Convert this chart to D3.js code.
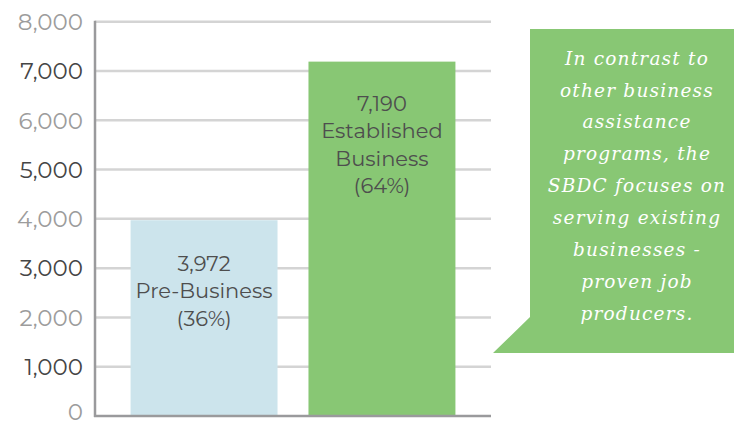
<!DOCTYPE html>
<html>
<head>
<meta charset="utf-8">
<script src="https://cdn.jsdelivr.net/npm/d3@7"></script>
<style>
  html, body { margin: 0; padding: 0; background: #fff; }
  svg { display: block; }
</style>
</head>
<body>
<div id="chart"></div>
<script>
const categories = ["Pre-Business", "Established Business"];
const values = [3972, 7190];
const percents = ["36%", "64%"];
// how each bar label breaks into lines
const labelLines = [
  ["3,972", "Pre-Business", "(36%)"],
  ["7,190", "Established", "Business", "(64%)"],
];
const barColors = ["#cce4ec", "#88c774"];
const yTicks = [0, 1000, 2000, 3000, 4000, 5000, 6000, 7000, 8000];
const calloutLines = [
  "In contrast to",
  "other business",
  "assistance",
  "programs, the",
  "SBDC focuses on",
  "serving existing",
  "businesses -",
  "proven job",
  "producers.",
];

const width = 734;
const height = 423;

const svg = d3
  .select("#chart")
  .append("svg")
  .attr("width", width)
  .attr("height", height);

const x = d3
  .scaleBand()
  .domain(categories)
  .range([95, 491])
  .paddingInner(0.174)
  .paddingOuter(0.2);

const y = d3.scaleLinear().domain([0, 8000]).range([416, 21.7]);

// gridlines
svg
  .append("g")
  .selectAll("line")
  .data(yTicks.filter((d) => d > 0))
  .join("line")
  .attr("x1", 95)
  .attr("x2", 491)
  .attr("y1", (d) => y(d))
  .attr("y2", (d) => y(d))
  .attr("stroke", "#d4d4d4")
  .attr("stroke-width", 2.5);

// tick labels, alternating grey shades
svg
  .append("g")
  .selectAll("text")
  .data(yTicks)
  .join("text")
  .attr("x", 83)
  .attr("y", (d) => (d === 0 ? 420 : y(d)))
  .attr("dy", (d) => (d === 0 ? 0 : "0.36em"))
  .attr("text-anchor", "end")
  .attr("font-family", "Montserrat, 'Open Sans', sans-serif")
  .attr("font-size", 23)
  .attr("fill", (d) => ((d / 1000) % 2 === 1 ? "#454545" : "#9c9c9c"))
  .text((d) => d3.format(",")(d));

// bars
svg
  .append("g")
  .selectAll("rect")
  .data(values)
  .join("rect")
  .attr("x", (d, i) => x(categories[i]))
  .attr("y", (d) => y(d))
  .attr("width", x.bandwidth())
  .attr("height", (d) => y(0) - y(d))
  .attr("fill", (d, i) => barColors[i]);

// axes lines
svg
  .append("line")
  .attr("x1", 95)
  .attr("x2", 95)
  .attr("y1", y(8000) - 1)
  .attr("y2", y(0) + 1)
  .attr("stroke", "#9a9a9c")
  .attr("stroke-width", 2.5);
svg
  .append("line")
  .attr("x1", 94)
  .attr("x2", 491)
  .attr("y1", y(0))
  .attr("y2", y(0))
  .attr("stroke", "#9a9a9c")
  .attr("stroke-width", 2.5);

// bar labels
const labelTop = [263, 103];
values.forEach((v, i) => {
  svg
    .append("g")
    .selectAll("text")
    .data(labelLines[i])
    .join("text")
    .attr("x", x(categories[i]) + x.bandwidth() / 2)
    .attr("y", (d, j) => labelTop[i] + j * 27.5)
    .attr("dy", "0.36em")
    .attr("text-anchor", "middle")
    .attr("font-family", "Montserrat, 'Open Sans', sans-serif")
    .attr("font-size", 21)
    .attr("fill", "#4e4e4e")
    .text((d) => d);
});

// callout box
svg
  .append("path")
  .attr("d", "M530,29 L734,29 L734,353 L493,353 L530,317 Z")
  .attr("fill", "#88c774");

svg
  .append("g")
  .selectAll("text")
  .data(calloutLines)
  .join("text")
  .attr("x", 637)
  .attr("y", (d, i) => 58 + i * 31.9)
  .attr("dy", "0.36em")
  .attr("text-anchor", "middle")
  .attr("font-family", "'DejaVu Serif', serif")
  .attr("font-style", "italic")
  .attr("font-size", 18.5)
  .attr("letter-spacing", 1.2)
  .attr("fill", "#fff")
  .text((d) => d);
</script>
</body>
</html>
